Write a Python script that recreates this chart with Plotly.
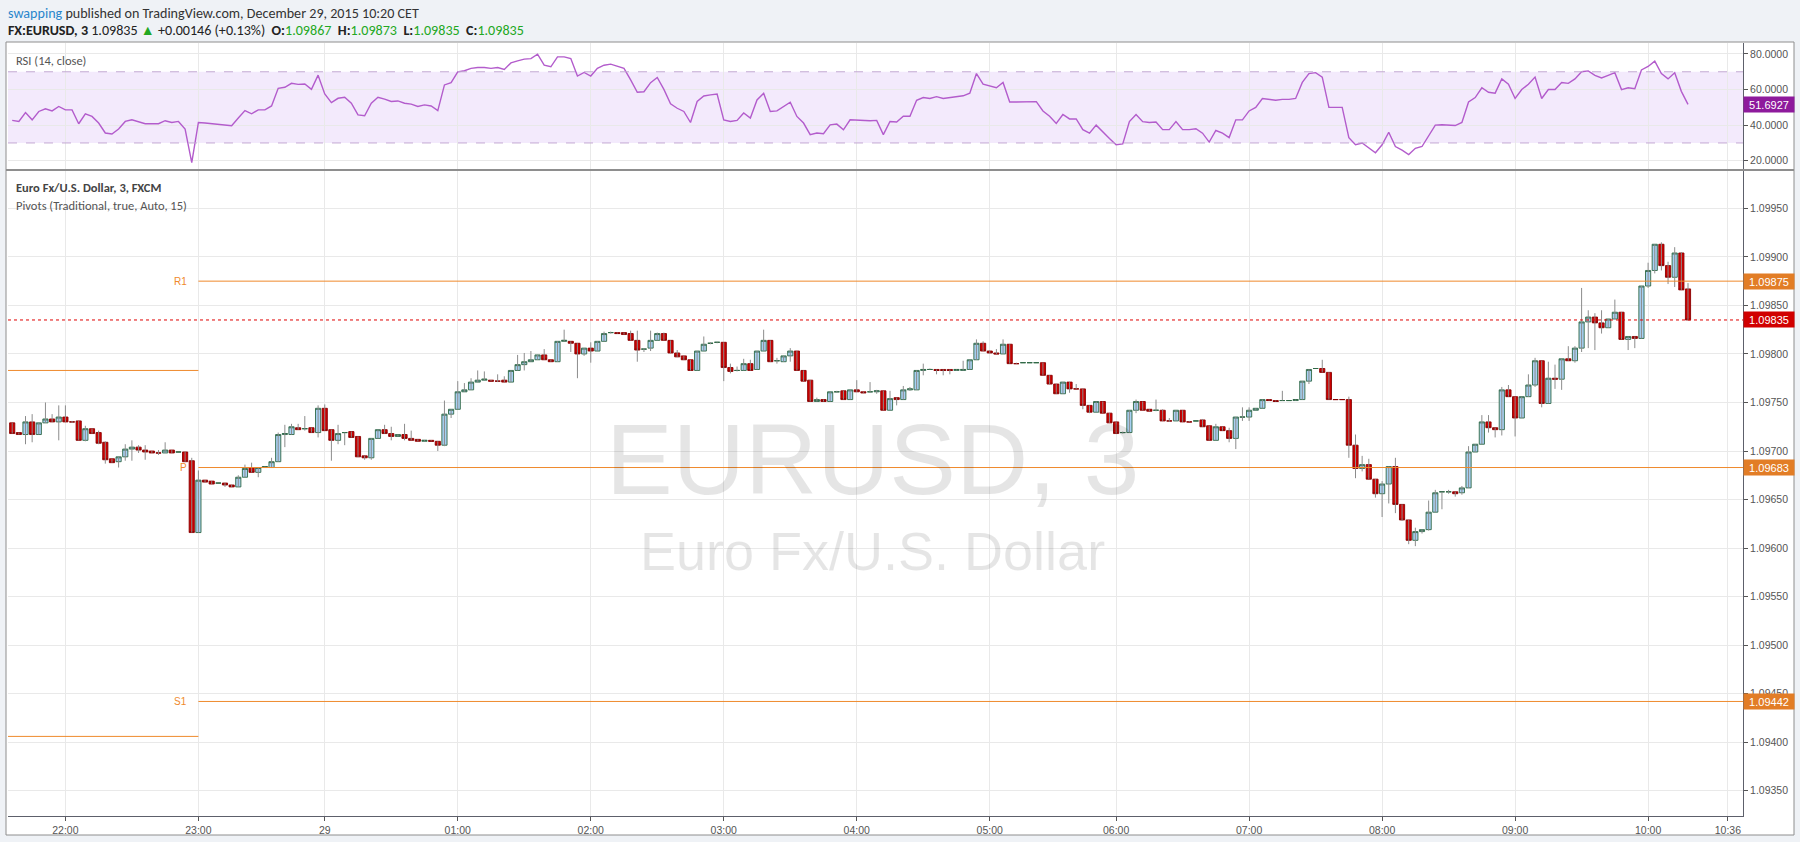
import plotly.graph_objects as go

W, H = 1800, 842

# ---------------- data ----------------
opens = [1.09729,1.09719,1.09717,1.09730,1.09717,1.09729,1.09733,1.09730,1.09735,1.09730,
1.09731,1.09711,1.09723,1.09719,1.09709,1.09692,1.09689,1.09694,1.09702,1.09704,
1.09701,1.09700,1.09698,1.09698,1.09701,1.09699,1.09699,1.09690,1.09616,1.09670,
1.09669,1.09667,1.09667,1.09665,1.09663,1.09673,1.09683,1.09678,1.09683,1.09683,
1.09689,1.09717,1.09717,1.09724,1.09723,1.09724,1.09719,1.09744,1.09722,1.09711,
1.09719,1.09720,1.09715,1.09695,1.09693,1.09713,1.09722,1.09718,1.09715,1.09717,
1.09713,1.09712,1.09710,1.09711,1.09710,1.09706,1.09738,1.09743,1.09761,1.09763,
1.09771,1.09773,1.09773,1.09772,1.09773,1.09771,1.09783,1.09789,1.09792,1.09794,
1.09799,1.09794,1.09792,1.09813,1.09813,1.09811,1.09800,1.09806,1.09803,1.09813,
1.09822,1.09822,1.09822,1.09821,1.09814,1.09805,1.09806,1.09814,1.09821,1.09814,
1.09801,1.09798,1.09794,1.09783,1.09803,1.09811,1.09812,1.09812,1.09786,1.09783,
1.09783,1.09790,1.09784,1.09803,1.09814,1.09793,1.09792,1.09798,1.09803,1.09783,
1.09773,1.09751,1.09753,1.09751,1.09761,1.09762,1.09753,1.09763,1.09761,1.09761,
1.09761,1.09762,1.09742,1.09755,1.09753,1.09763,1.09763,1.09783,1.09784,1.09784,
1.09784,1.09784,1.09783,1.09783,1.09784,1.09794,1.09811,1.09803,1.09801,1.09800,
1.09810,1.09790,1.09791,1.09791,1.09791,1.09791,1.09778,1.09769,1.09759,1.09771,
1.09764,1.09764,1.09747,1.09740,1.09751,1.09739,1.09730,1.09719,1.09719,1.09742,
1.09751,1.09743,1.09742,1.09742,1.09731,1.09731,1.09742,1.09730,1.09731,1.09732,
1.09726,1.09711,1.09725,1.09721,1.09713,1.09735,1.09735,1.09742,1.09744,1.09753,
1.09752,1.09752,1.09752,1.09752,1.09753,1.09772,1.09785,1.09785,1.09781,1.09753,
1.09753,1.09753,1.09706,1.09682,1.09686,1.09671,1.09656,1.09666,1.09684,1.09645,
1.09629,1.09608,1.09617,1.09619,1.09637,1.09658,1.09658,1.09658,1.09657,1.09662,
1.09699,1.09707,1.09730,1.09724,1.09722,1.09763,1.09756,1.09734,1.09756,1.09768,
1.09793,1.09749,1.09775,1.09774,1.09795,1.09793,1.09806,1.09833,1.09838,1.09832,
1.09827,1.09836,1.09843,1.09815,1.09818,1.09816,1.09870,1.09886,1.09913,1.09891,
1.09879,1.09904,1.09867]
highs = [1.09729,1.09719,1.09736,1.09738,1.09729,1.09750,1.09738,1.09747,1.09747,1.09731,
1.09731,1.09726,1.09723,1.09721,1.09710,1.09692,1.09694,1.09707,1.09711,1.09706,
1.09706,1.09700,1.09701,1.09709,1.09701,1.09699,1.09699,1.09693,1.09680,1.09670,
1.09669,1.09667,1.09667,1.09665,1.09675,1.09686,1.09688,1.09683,1.09684,1.09693,
1.09719,1.09727,1.09728,1.09728,1.09736,1.09724,1.09747,1.09748,1.09722,1.09727,
1.09719,1.09720,1.09715,1.09695,1.09713,1.09722,1.09727,1.09725,1.09717,1.09728,
1.09721,1.09712,1.09711,1.09711,1.09710,1.09752,1.09743,1.09772,1.09770,1.09775,
1.09783,1.09782,1.09773,1.09779,1.09777,1.09783,1.09799,1.09801,1.09803,1.09799,
1.09805,1.09794,1.09813,1.09825,1.09813,1.09811,1.09806,1.09812,1.09813,1.09823,
1.09823,1.09822,1.09822,1.09824,1.09824,1.09806,1.09824,1.09822,1.09822,1.09814,
1.09804,1.09798,1.09794,1.09803,1.09818,1.09812,1.09812,1.09812,1.09790,1.09787,
1.09795,1.09794,1.09803,1.09825,1.09814,1.09796,1.09798,1.09806,1.09803,1.09783,
1.09773,1.09755,1.09753,1.09761,1.09762,1.09762,1.09763,1.09773,1.09761,1.09771,
1.09763,1.09762,1.09762,1.09755,1.09767,1.09766,1.09783,1.09790,1.09785,1.09784,
1.09784,1.09784,1.09784,1.09793,1.09794,1.09815,1.09813,1.09803,1.09805,1.09815,
1.09810,1.09791,1.09791,1.09791,1.09791,1.09791,1.09778,1.09769,1.09771,1.09771,
1.09769,1.09764,1.09747,1.09751,1.09751,1.09739,1.09730,1.09720,1.09742,1.09753,
1.09751,1.09743,1.09753,1.09743,1.09734,1.09742,1.09742,1.09731,1.09731,1.09733,
1.09726,1.09728,1.09725,1.09724,1.09735,1.09745,1.09745,1.09744,1.09753,1.09753,
1.09752,1.09762,1.09752,1.09753,1.09772,1.09784,1.09785,1.09794,1.09781,1.09753,
1.09753,1.09756,1.09717,1.09695,1.09692,1.09671,1.09669,1.09684,1.09693,1.09645,
1.09629,1.09621,1.09619,1.09649,1.09660,1.09658,1.09660,1.09658,1.09664,1.09705,
1.09707,1.09737,1.09737,1.09724,1.09766,1.09768,1.09756,1.09756,1.09779,1.09796,
1.09793,1.09792,1.09789,1.09795,1.09808,1.09808,1.09868,1.09845,1.09842,1.09845,
1.09836,1.09856,1.09843,1.09818,1.09818,1.09870,1.09894,1.09913,1.09915,1.09895,
1.09910,1.09905,1.09873]
lows = [1.09718,1.09717,1.09707,1.09709,1.09717,1.09729,1.09730,1.09711,1.09730,1.09729,
1.09711,1.09710,1.09718,1.09707,1.09687,1.09688,1.09683,1.09690,1.09690,1.09698,
1.09691,1.09698,1.09696,1.09698,1.09698,1.09699,1.09689,1.09616,1.09616,1.09668,
1.09666,1.09667,1.09663,1.09663,1.09663,1.09673,1.09678,1.09673,1.09683,1.09683,
1.09689,1.09704,1.09717,1.09722,1.09721,1.09719,1.09714,1.09721,1.09690,1.09707,
1.09706,1.09714,1.09694,1.09691,1.09691,1.09713,1.09718,1.09711,1.09715,1.09711,
1.09711,1.09710,1.09710,1.09710,1.09700,1.09705,1.09734,1.09743,1.09761,1.09763,
1.09771,1.09773,1.09772,1.09771,1.09771,1.09771,1.09783,1.09783,1.09792,1.09794,
1.09794,1.09792,1.09792,1.09813,1.09802,1.09775,1.09798,1.09791,1.09803,1.09813,
1.09821,1.09821,1.09820,1.09814,1.09792,1.09802,1.09803,1.09814,1.09814,1.09801,
1.09797,1.09794,1.09783,1.09783,1.09803,1.09810,1.09811,1.09772,1.09780,1.09782,
1.09783,1.09783,1.09784,1.09803,1.09792,1.09790,1.09792,1.09792,1.09783,1.09772,
1.09751,1.09751,1.09751,1.09751,1.09760,1.09753,1.09753,1.09761,1.09760,1.09760,
1.09759,1.09742,1.09742,1.09747,1.09753,1.09762,1.09763,1.09778,1.09784,1.09779,
1.09778,1.09779,1.09783,1.09783,1.09784,1.09794,1.09803,1.09801,1.09800,1.09800,
1.09790,1.09790,1.09791,1.09791,1.09791,1.09778,1.09769,1.09759,1.09759,1.09760,
1.09764,1.09743,1.09739,1.09740,1.09739,1.09729,1.09718,1.09718,1.09719,1.09739,
1.09742,1.09741,1.09741,1.09731,1.09730,1.09731,1.09730,1.09730,1.09731,1.09725,
1.09711,1.09711,1.09721,1.09709,1.09702,1.09731,1.09731,1.09742,1.09744,1.09752,
1.09751,1.09752,1.09752,1.09752,1.09753,1.09769,1.09785,1.09781,1.09753,1.09753,
1.09753,1.09693,1.09672,1.09679,1.09671,1.09652,1.09632,1.09646,1.09636,1.09628,
1.09604,1.09602,1.09615,1.09618,1.09637,1.09640,1.09656,1.09653,1.09655,1.09662,
1.09699,1.09707,1.09719,1.09714,1.09716,1.09756,1.09715,1.09734,1.09756,1.09766,
1.09745,1.09749,1.09764,1.09763,1.09793,1.09791,1.09802,1.09806,1.09804,1.09821,
1.09827,1.09836,1.09815,1.09804,1.09806,1.09816,1.09868,1.09883,1.09886,1.09872,
1.09869,1.09866,1.09835]
closes = [1.09718,1.09717,1.09730,1.09717,1.09729,1.09733,1.09730,1.09735,1.09730,1.09730,
1.09711,1.09723,1.09718,1.09708,1.09691,1.09688,1.09694,1.09702,1.09704,1.09701,
1.09699,1.09698,1.09698,1.09701,1.09698,1.09699,1.09689,1.09616,1.09670,1.09668,
1.09666,1.09667,1.09665,1.09663,1.09673,1.09682,1.09678,1.09683,1.09684,1.09689,
1.09717,1.09718,1.09725,1.09722,1.09723,1.09719,1.09744,1.09721,1.09711,1.09718,
1.09719,1.09714,1.09694,1.09693,1.09713,1.09722,1.09718,1.09715,1.09717,1.09713,
1.09711,1.09710,1.09711,1.09710,1.09706,1.09738,1.09743,1.09761,1.09763,1.09771,
1.09773,1.09774,1.09772,1.09772,1.09771,1.09783,1.09789,1.09792,1.09794,1.09799,
1.09794,1.09792,1.09813,1.09814,1.09811,1.09800,1.09806,1.09803,1.09813,1.09821,
1.09822,1.09821,1.09820,1.09814,1.09804,1.09805,1.09814,1.09821,1.09814,1.09801,
1.09797,1.09794,1.09783,1.09803,1.09810,1.09811,1.09812,1.09786,1.09782,1.09783,
1.09790,1.09783,1.09803,1.09814,1.09792,1.09793,1.09798,1.09803,1.09783,1.09772,
1.09751,1.09753,1.09751,1.09761,1.09761,1.09753,1.09763,1.09761,1.09760,1.09761,
1.09762,1.09742,1.09754,1.09753,1.09763,1.09764,1.09783,1.09784,1.09784,1.09783,
1.09783,1.09783,1.09784,1.09784,1.09794,1.09811,1.09803,1.09801,1.09800,1.09810,
1.09790,1.09790,1.09791,1.09791,1.09791,1.09778,1.09769,1.09759,1.09771,1.09764,
1.09764,1.09747,1.09740,1.09751,1.09739,1.09729,1.09718,1.09719,1.09742,1.09751,
1.09742,1.09741,1.09742,1.09731,1.09731,1.09742,1.09730,1.09730,1.09731,1.09725,
1.09711,1.09725,1.09721,1.09713,1.09735,1.09735,1.09742,1.09744,1.09753,1.09752,
1.09751,1.09752,1.09752,1.09753,1.09772,1.09784,1.09785,1.09781,1.09753,1.09753,
1.09753,1.09706,1.09682,1.09686,1.09671,1.09656,1.09666,1.09684,1.09645,1.09629,
1.09608,1.09617,1.09619,1.09637,1.09657,1.09658,1.09658,1.09656,1.09662,1.09699,
1.09707,1.09730,1.09724,1.09722,1.09763,1.09756,1.09734,1.09756,1.09768,1.09793,
1.09749,1.09775,1.09774,1.09795,1.09793,1.09806,1.09833,1.09838,1.09832,1.09827,
1.09836,1.09843,1.09815,1.09818,1.09816,1.09870,1.09886,1.09913,1.09891,1.09879,
1.09904,1.09866,1.09835]

rsi = [42.7,42.1,47.1,43.0,47.7,49.2,48.0,50.5,48.6,48.6,
40.8,46.4,44.9,41.2,35.6,35.0,37.8,42.1,43.0,42.1,
40.8,40.8,40.8,42.5,41.5,42.1,37.8,18.9,41.5,41.2,
40.8,40.6,40.2,39.7,44.0,48.2,46.4,48.6,48.6,50.8,
60.7,61.3,63.5,62.9,63.1,60.1,68.1,57.5,52.7,55.1,
55.7,52.3,45.8,45.3,52.3,55.7,54.6,53.3,53.6,52.3,
51.8,50.5,51.4,50.8,48.2,62.6,63.9,70.0,70.6,71.9,
72.4,72.4,71.9,72.4,71.3,75.0,76.1,77.1,77.4,79.9,
73.7,72.8,78.4,78.4,77.4,67.6,69.6,67.6,71.9,73.7,
74.3,73.2,71.9,65.4,58.5,58.8,63.9,66.8,60.1,52.0,
49.5,47.7,41.5,53.3,56.4,57.0,57.5,43.0,42.1,42.7,
46.8,44.0,54.2,57.9,47.7,48.0,50.5,52.9,44.9,41.2,
34.7,35.6,35.2,40.2,40.6,37.4,43.0,42.7,42.5,42.5,
42.7,34.7,42.1,41.8,45.0,45.0,54.0,55.5,55.0,56.0,
55.0,55.5,56.0,56.5,58.0,69.0,63.0,62.0,61.0,64.0,
53.0,53.0,53.2,53.2,53.2,48.0,45.0,41.0,46.0,43.5,
43.5,37.5,35.5,40.0,36.0,32.5,29.0,29.5,42.0,46.0,
42.0,41.5,41.8,37.5,37.5,42.0,37.5,37.5,38.0,35.5,
30.5,37.0,35.5,33.0,43.0,43.0,48.0,50.0,55.0,54.5,
54.0,54.5,54.5,55.0,64.0,69.0,69.5,67.0,50.0,50.0,
50.0,33.0,29.0,30.0,27.0,24.5,29.0,36.0,28.0,26.0,
23.5,27.0,28.0,34.0,40.0,40.2,40.2,39.8,41.5,53.0,
55.5,61.0,58.5,58.0,66.0,63.0,55.0,60.0,63.0,67.0,
55.0,60.0,60.0,64.0,63.5,66.0,70.0,70.5,68.0,66.5,
68.0,69.5,60.0,61.0,60.5,71.0,73.0,76.0,69.0,66.0,
69.5,59.0,51.6927]

skipped_slots = ["23:27", "05:24"]
first_slot = (21, 36)

hour_ticks = ["22:00", "23:00", "00:00", "01:00", "02:00", "03:00", "04:00",
              "05:00", "06:00", "07:00", "08:00", "09:00", "10:00"]
hour_text = ["22:00", "23:00", "29", "01:00", "02:00", "03:00", "04:00",
             "05:00", "06:00", "07:00", "08:00", "09:00", "10:00"]
extra_tick = ("10:00", 36, "10:36")

pivot_levels = {"R1": 1.09875, "P": 1.09683, "S1": 1.09442}
prev_levels = [1.09783, 1.09406]
last_price = 1.09835
last_rsi = 51.6927

# ---------------- derived ----------------
n = len(opens)
times = []
h, m = first_slot
while len(times) < n:
    s = f"{h:02d}:{m:02d}"
    if s not in skipped_slots:
        times.append(s)
    m += 3
    if m >= 60:
        m -= 60
        h = (h + 1) % 24
x = list(range(n))

tickvals = [times.index(t) for t in hour_ticks]
ticktext = list(hour_text)
tickvals.append(times.index(extra_tick[0]) + extra_tick[1] / 3)
ticktext.append(extra_tick[2])

def px_x(p):
    return p / W

def px_y(p):
    return 1 - p / H

X_LEFT, X_RIGHT = 8, 1743
MAIN_TOP, MAIN_BOT = 170, 816
RSI_TOP, RSI_BOT = 43.3, 169.3

bar_px = 6.65
i22 = times.index("22:00")
x_at = lambda px: i22 + (px - 65.4) / bar_px
xr = [x_at(X_LEFT), x_at(X_RIGHT)]
yr = [1.09324, 1.099895]
rr = [15.2, 86.0]

UI_FONT = "Carlito, 'Liberation Sans Narrow', 'Liberation Sans', Arial, sans-serif"
AX_FONT = "'Liberation Sans', Arial, sans-serif"
ORANGE = "#ef8a2c"
ORANGE_BOX = "#e27d26"

fig = go.Figure()

# wicks
wx, wy = [], []
for i in range(n):
    wx += [x[i], x[i], None]
    wy += [lows[i], highs[i], None]
fig.add_trace(go.Scatter(x=wx, y=wy, mode="lines", line=dict(color="#8c8c8c", width=1),
                         hoverinfo="skip", showlegend=False, xaxis="x", yaxis="y"))

# bodies
fig.add_trace(go.Candlestick(
    x=x, open=opens, close=closes,
    high=[max(o, c) for o, c in zip(opens, closes)],
    low=[min(o, c) for o, c in zip(opens, closes)],
    increasing=dict(fillcolor="#a8d0f2", line=dict(color="#2f6845", width=0.9)),
    decreasing=dict(fillcolor="#cc0000", line=dict(color="#8a0000", width=0.9)),
    whiskerwidth=0, showlegend=False, xaxis="x", yaxis="y"))

# RSI
fig.add_trace(go.Scatter(x=x, y=rsi, mode="lines", line=dict(color="#b35ccc", width=1.4),
                         showlegend=False, xaxis="x2", yaxis="y2"))

grid = "#e9e9e9"
fig.update_layout(
    width=W, height=H, autosize=False,
    margin=dict(l=0, r=0, t=0, b=0),
    paper_bgcolor="#eff2f6", plot_bgcolor="white",
    showlegend=False, boxgap=0.0, boxgroupgap=0.22,
    xaxis=dict(domain=[px_x(X_LEFT), px_x(X_RIGHT)], range=xr, anchor="y",
               tickmode="array", tickvals=tickvals, ticktext=ticktext,
               showgrid=True, gridcolor=grid, gridwidth=1,
               ticks="outside", ticklen=4, tickcolor="#555",
               showline=True, linecolor="#5d606b", linewidth=1,
               tickfont=dict(family=AX_FONT, size=10.5, color="#555"),
               rangeslider=dict(visible=False), zeroline=False),
    yaxis=dict(domain=[px_y(MAIN_BOT), px_y(MAIN_TOP)], range=yr, side="right", anchor="x",
               tick0=1.0935, dtick=0.0005, tickformat=".5f",
               showgrid=True, gridcolor=grid, ticks="outside", ticklen=4, tickcolor="#555",
               showline=True, linecolor="#5d606b", linewidth=1,
               tickfont=dict(family=AX_FONT, size=10.5, color="#555"), zeroline=False),
    xaxis2=dict(domain=[px_x(X_LEFT), px_x(X_RIGHT)], range=xr, anchor="y2", matches="x",
                tickmode="array", tickvals=tickvals, showticklabels=False,
                showgrid=True, gridcolor=grid, ticks="", zeroline=False),
    yaxis2=dict(domain=[px_y(RSI_BOT), px_y(RSI_TOP)], range=rr, side="right", anchor="x2",
                tickmode="array", tickvals=[20, 40, 60, 80], tickformat=".4f",
                showgrid=True, gridcolor=grid, ticks="outside", ticklen=4, tickcolor="#555",
                showline=True, linecolor="#5d606b", linewidth=1,
                tickfont=dict(family=AX_FONT, size=10.5, color="#555"), zeroline=False),
)

shapes = []
shapes.append(dict(type="rect", xref="paper", yref="paper", x0=px_x(6), x1=px_x(1794),
                   y0=px_y(835), y1=px_y(42), fillcolor="white",
                   line=dict(color="#8e8e8e", width=1), layer="below"))
shapes.append(dict(type="rect", xref="x2 domain", yref="y2", x0=0, x1=1, y0=30, y1=70,
                   fillcolor="rgba(160,80,230,0.12)", line=dict(width=0), layer="below"))
for lv in (30, 70):
    shapes.append(dict(type="line", xref="x2 domain", yref="y2", x0=0, x1=1, y0=lv, y1=lv,
                       line=dict(color="#c3a9d3", width=1, dash="dash")))
shapes.append(dict(type="line", xref="paper", yref="paper", x0=px_x(6), x1=px_x(1794),
                   y0=px_y(170), y1=px_y(170), line=dict(color="#8e8e8e", width=2)))
i23 = times.index("23:00")
for name, lv in pivot_levels.items():
    shapes.append(dict(type="line", xref="x", yref="y", x0=i23, x1=xr[1], y0=lv, y1=lv,
                       line=dict(color=ORANGE, width=1)))
for lv in prev_levels:
    shapes.append(dict(type="line", xref="x", yref="y", x0=xr[0], x1=i23, y0=lv, y1=lv,
                       line=dict(color=ORANGE, width=1)))
shapes.append(dict(type="line", xref="x", yref="y", x0=xr[0], x1=xr[1], y0=last_price, y1=last_price,
                   line=dict(color="#e00000", width=1, dash="dot")))
fig.update_layout(shapes=shapes)

ann = []
ann.append(dict(text="EURUSD, 3", xref="paper", yref="paper", x=px_x(872), y=px_y(459),
                showarrow=False, font=dict(family=AX_FONT, size=100, color="rgba(0,0,0,0.10)")))
ann.append(dict(text="Euro Fx/U.S. Dollar", xref="paper", yref="paper", x=px_x(872), y=px_y(551),
                showarrow=False, font=dict(family=AX_FONT, size=54, color="rgba(0,0,0,0.10)")))
ann.append(dict(text="<span style='color:#2a86cc'>swapping</span> published on TradingView.com, December 29, 2015 10:20 CET",
                xref="paper", yref="paper", x=px_x(6), y=px_y(13), xanchor="left", yanchor="middle",
                showarrow=False, font=dict(family=UI_FONT, size=14.1, color="#333")))
G = "#22a822"
ann.append(dict(text=("<b>FX:EURUSD, 3</b> 1.09835 <span style='color:%s'>▲</span> +0.00146 (+0.13%%)  "
                      "<b>O:</b><span style='color:%s'>1.09867</span>  <b>H:</b><span style='color:%s'>1.09873</span>  "
                      "<b>L:</b><span style='color:%s'>1.09835</span>  <b>C:</b><span style='color:%s'>1.09835</span>")
                % (G, G, G, G, G),
                xref="paper", yref="paper", x=px_x(6), y=px_y(30.5), xanchor="left", yanchor="middle",
                showarrow=False, font=dict(family=UI_FONT, size=14.1, color="#222")))
ann.append(dict(text="RSI (14, close)", xref="paper", yref="paper", x=px_x(14), y=px_y(60),
                xanchor="left", yanchor="middle", showarrow=False,
                font=dict(family=UI_FONT, size=12.5, color="#555")))
ann.append(dict(text="<b>Euro Fx/U.S. Dollar, 3, FXCM</b>", xref="paper", yref="paper", x=px_x(14), y=px_y(188),
                xanchor="left", yanchor="middle", showarrow=False,
                font=dict(family=UI_FONT, size=12.5, color="#444")))
ann.append(dict(text="Pivots (Traditional, true, Auto, 15)", xref="paper", yref="paper", x=px_x(14), y=px_y(205),
                xanchor="left", yanchor="middle", showarrow=False,
                font=dict(family=UI_FONT, size=12.5, color="#555")))
for name, lv in pivot_levels.items():
    ann.append(dict(text=name, xref="x", yref="y", x=i23, y=lv, xanchor="right", yanchor="middle",
                    xshift=-9, showarrow=False, font=dict(family=AX_FONT, size=10, color=ORANGE)))

def price_box(val, txt, color, yref):
    return dict(text=txt, xref="paper", yref=yref, x=px_x(X_RIGHT), y=val, xanchor="left",
                yanchor="middle", showarrow=False, bgcolor=color, width=48, height=13,
                borderpad=1, font=dict(family=AX_FONT, size=11, color="white"))
for name, lv in pivot_levels.items():
    ann.append(price_box(lv, f"{lv:.5f}", ORANGE_BOX, "y"))
ann.append(price_box(last_price, f"{last_price:.5f}", "#d10000", "y"))
ann.append(price_box(last_rsi, f"{last_rsi:.4f}", "#8e1a9c", "y2"))
fig.update_layout(annotations=ann)

fig.write_html("out.html", config={"displayModeBar": False},
               post_script="document.body.style.margin='0px';")
